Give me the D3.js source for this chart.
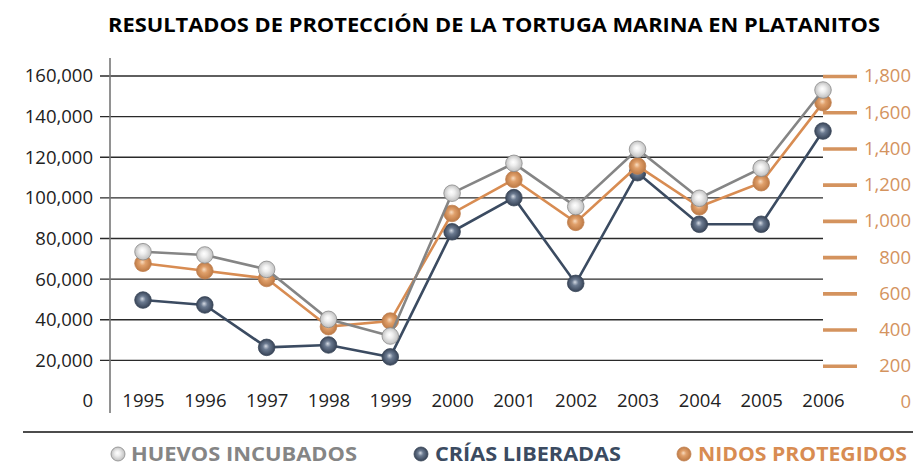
<!DOCTYPE html>
<html>
<head>
<meta charset="utf-8">
<script src="https://cdn.jsdelivr.net/npm/d3@7"></script>
<style>
  body { margin: 0; background: #fff; }
  svg { display: block; font-family: "Open Sans", sans-serif; }
</style>
</head>
<body>
<svg id="chart" width="915" height="467"></svg>
<script>
// data
var years = [1995, 1996, 1997, 1998, 1999, 2000, 2001, 2002, 2003, 2004, 2005, 2006];
var huevos = [73500, 71900, 64800, 40200, 32000, 102300, 117000, 95700, 123900, 99800, 114600, 153100];
var crias  = [49700, 47300, 26400, 27600, 21700, 83300, 100100, 57900, 112400, 87000, 87000, 132900];
var nidos  = [766, 725, 682, 416, 447, 1041, 1229, 992, 1303, 1078, 1211, 1653];
var leftTicks  = [0, 20000, 40000, 60000, 80000, 100000, 120000, 140000, 160000];
var rightTicks = [0, 200, 400, 600, 800, 1000, 1200, 1400, 1600, 1800];
var legendNames = ["HUEVOS INCUBADOS", "CRÍAS LIBERADAS", "NIDOS PROTEGIDOS"];

var svg = d3.select("#chart");
var orange = "#d4935e";

var x  = d3.scalePoint().domain(years).range([143, 823]);
var yL = d3.scaleLinear().domain([0, 160000]).range([401, 76]);
var yR = d3.scaleLinear().domain([0, 1800]).range([402, 76]);

// sphere gradients
var defs = svg.append("defs");
function sphere(id, hi, mid, edge) {
  var g = defs.append("radialGradient").attr("id", id)
    .attr("cx", "50%").attr("cy", "50%").attr("r", "55%")
    .attr("fx", "45%").attr("fy", "42%");
  g.append("stop").attr("offset", "0%").attr("stop-color", hi);
  g.append("stop").attr("offset", "35%").attr("stop-color", mid);
  g.append("stop").attr("offset", "100%").attr("stop-color", edge);
}
sphere("gWhite", "#ffffff", "#eeeeee", "#b8b8b8");
sphere("gBlue", "#d5dbe4", "#6b7a90", "#2f3b4e");
sphere("gOrange", "#f8dcc0", "#e0a06b", "#b8743f");

// title
svg.append("text")
  .attr("x", 108).attr("y", 32)
  .attr("textLength", 772).attr("lengthAdjust", "spacingAndGlyphs")
  .style("font-size", "19.5px").style("font-weight", "bold").style("fill", "#000")
  .text("RESULTADOS DE PROTECCIÓN DE LA TORTUGA MARINA EN PLATANITOS");

// grid lines
svg.append("g").selectAll("line")
  .data(leftTicks.filter(function(d) { return d > 0; }))
  .enter().append("line")
    .attr("x1", 100).attr("x2", 823)
    .attr("y1", function(d) { return yL(d); })
    .attr("y2", function(d) { return yL(d); })
    .style("stroke", "#2a2a2a").style("stroke-width", 1.4);

// left vertical axis line
svg.append("line")
  .attr("x1", 110).attr("x2", 110).attr("y1", 58).attr("y2", 413)
  .style("stroke", "#777").style("stroke-width", 1.6);

// left axis labels
var gl = svg.append("g").attr("transform", "translate(110,0)")
  .call(d3.axisLeft(yL).tickValues(leftTicks).tickSize(0).tickPadding(17).tickFormat(d3.format(",")));
gl.select(".domain").remove();
gl.selectAll("text").style("font-size", "18.5px").style("fill", "#222").style("font-family", "'Open Sans', sans-serif");

// right axis
var gr = svg.append("g").attr("transform", "translate(823,0)")
  .call(d3.axisRight(yR).tickValues(rightTicks).tickSize(34).tickFormat(d3.format(",")));
gr.select(".domain").remove();
gr.selectAll("line")
  .style("stroke", orange).style("stroke-width", 3.6)
  .style("display", function(d) { return d === 0 ? "none" : null; });
gr.selectAll("text")
  .attr("x", 88).attr("text-anchor", "end")
  .style("font-size", "18.5px").style("fill", orange).style("font-family", "'Open Sans', sans-serif");

// x axis labels
var gx = svg.append("g").attr("transform", "translate(0,401)")
  .call(d3.axisBottom(x).tickSize(0));
gx.select(".domain").remove();
gx.selectAll("text").attr("y", 0).attr("dy", "0.35em")
  .style("font-size", "18.5px").style("fill", "#222").style("font-family", "'Open Sans', sans-serif");

// series
var series = [
  { values: crias, y: yL, color: "#3b4b61", fill: "url(#gBlue)", rim: "#3a4658" },
  { values: nidos, y: yR, color: "#d88c52", fill: "url(#gOrange)", rim: "#c08050" },
  { values: huevos, y: yL, color: "#858585", fill: "url(#gWhite)", rim: "#8a8a8a" }
];

series.forEach(function(s) {
  var line = d3.line()
    .x(function(d, i) { return x(years[i]); })
    .y(function(d) { return s.y(d); });
  svg.append("path")
    .datum(s.values)
    .attr("d", line)
    .style("fill", "none").style("stroke", s.color).style("stroke-width", 2.6);
  svg.append("g").selectAll("circle")
    .data(s.values)
    .enter().append("circle")
      .attr("cx", function(d, i) { return x(years[i]); })
      .attr("cy", function(d) { return s.y(d); })
      .attr("r", 8.3)
      .style("fill", s.fill).style("stroke", s.rim).style("stroke-width", 0.8);
});

// bottom rule
svg.append("line")
  .attr("x1", 23).attr("x2", 913).attr("y1", 432).attr("y2", 432)
  .style("stroke", "#111").style("stroke-width", 1.5);

// legend
var legend = [
  { name: legendNames[0], color: "#858585", fill: "url(#gWhite)", rim: "#8a8a8a", icon: 118, tx: 131, w: 226 },
  { name: legendNames[1], color: "#3b4b61", fill: "url(#gBlue)", rim: "#3a4658", icon: 421, tx: 435, w: 186 },
  { name: legendNames[2], color: "#d88c52", fill: "url(#gOrange)", rim: "#c08050", icon: 684, tx: 698, w: 209 }
];
var lg = svg.append("g").selectAll("g").data(legend).enter().append("g");
lg.append("circle")
  .attr("cx", function(d) { return d.icon; }).attr("cy", 454).attr("r", 7)
  .style("fill", function(d) { return d.fill; })
  .style("stroke", function(d) { return d.rim; }).style("stroke-width", 0.8);
lg.append("text")
  .attr("x", function(d) { return d.tx; }).attr("y", 461)
  .attr("textLength", function(d) { return d.w; }).attr("lengthAdjust", "spacingAndGlyphs")
  .style("font-size", "20px").style("font-weight", "bold")
  .style("fill", function(d) { return d.color; })
  .text(function(d) { return d.name; });
</script>
</body>
</html>
